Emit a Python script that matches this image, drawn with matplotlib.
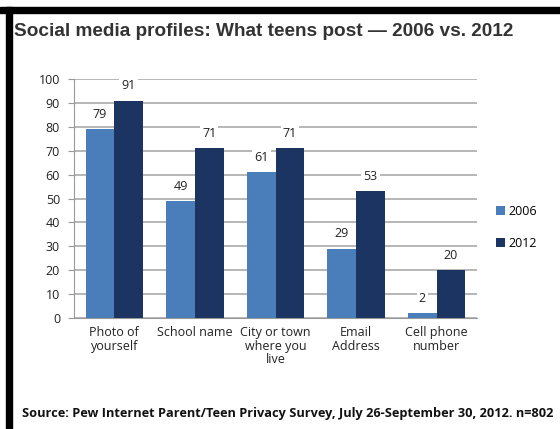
import matplotlib.pyplot as plt
import numpy as np
from matplotlib.patches import Rectangle

categorias = ["Photo of\nyourself", "School name", "City or town\nwhere you\nlive",
              "Email\nAddress", "Cell phone\nnumber"]
valores_2006 = [79, 49, 61, 29, 2]
valores_2012 = [91, 71, 71, 53, 20]
series = ["2006", "2012"]

color_2006 = "#4a7ebb"
color_2012 = "#1c3461"
fuente = ["Open Sans", "DejaVu Sans"]

fig = plt.figure(figsize=(5.6, 4.29), dpi=100)
fig.patch.set_facecolor("white")

# marco negro (arriba e izquierda)
fig.patches.append(Rectangle((0, 1 - 13 / 429), 1, 6 / 429, transform=fig.transFigure,
                             color="black", zorder=10))
fig.patches.append(Rectangle((6 / 560, 0), 6 / 560, 1 - 7 / 429, transform=fig.transFigure,
                             color="black", zorder=10))

ax = fig.add_axes([74 / 560, 1 - 318 / 429, 403 / 560, 239 / 429])

x = np.arange(len(categorias))
ancho = 0.355
b1 = ax.bar(x - ancho / 2, valores_2006, ancho, color=color_2006, label=series[0], zorder=3)
b2 = ax.bar(x + ancho / 2, valores_2012, ancho, color=color_2012, label=series[1], zorder=3)

for barras in (b1, b2):
    for b in barras:
        v = b.get_height()
        ax.text(b.get_x() + b.get_width() / 2, v + 3.5, f"{v:.0f}", ha="center", va="bottom",
                fontsize=9, family=fuente, color="#222222", zorder=4,
                bbox=dict(facecolor="white", edgecolor="none", pad=1.5))

ax.set_xlim(-0.5, len(categorias) - 0.5)
ax.set_ylim(0, 100)
ax.set_yticks(range(0, 101, 10))
ax.set_xticks(x)
ax.set_xticklabels(categorias, fontsize=9, family=fuente, color="#222222", linespacing=1.05)
for lbl in ax.get_yticklabels():
    lbl.set_fontsize(9)
    lbl.set_family(fuente)
    lbl.set_color("#222222")
ax.tick_params(axis="x", length=0, pad=6)
ax.tick_params(axis="y", length=4, color="#999999", pad=6)
ax.grid(axis="y", color="#aaaaaa", linewidth=1.2, zorder=0)
for lado in ["top", "right"]:
    ax.spines[lado].set_visible(False)
ax.spines["left"].set_color("#999999")
ax.spines["bottom"].set_color("#999999")

ax.legend(loc="center left", bbox_to_anchor=(1.02, 0.38), frameon=False, handlelength=0.7,
          handleheight=0.7, handletextpad=0.3, labelspacing=1.5,
          prop={"family": fuente, "size": 9})

fig.text(14 / 560, 1 - 31 / 429, "Social media profiles: What teens post \u2014 2006 vs. 2012",
         fontsize=13.7, fontweight="bold", family=["Liberation Sans", "DejaVu Sans"],
         color="#333333", va="center", ha="left")
fig.text(22 / 560, 1 - 413 / 429,
         "Source: Pew Internet Parent/Teen Privacy Survey, July 26-September 30, 2012. n=802",
         fontsize=9.2, fontweight="bold", family=fuente, color="#111111", va="center", ha="left")

fig.savefig("out.png", dpi=100)
